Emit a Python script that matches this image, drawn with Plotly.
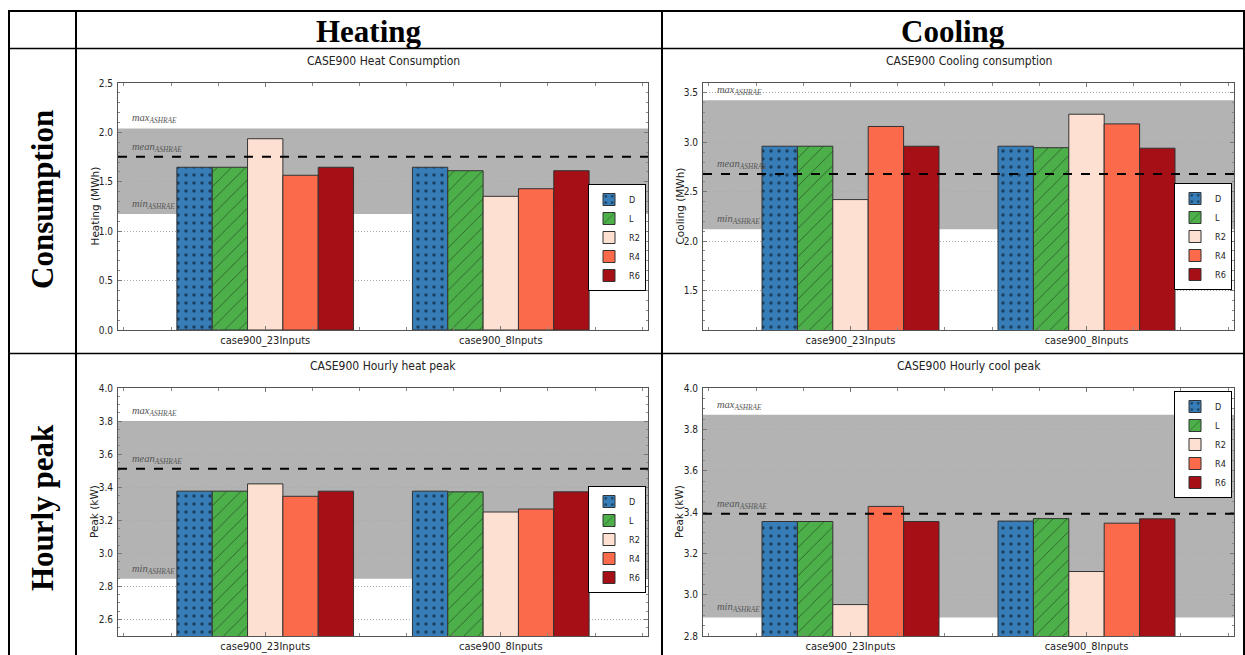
import plotly.graph_objects as go

W, H = 1245, 655

# ---------------- data ----------------
groups = ["case900_23Inputs", "case900_8Inputs"]
group_pos = [0, 1]
series = ["D", "L", "R2", "R4", "R6"]
colors = ["#377eb8", "#4daf4a", "#fee0d2", "#fb6a4a", "#a50f15"]
patterns = [".", "/", "", "", ""]

# values per series: [case900_23Inputs, case900_8Inputs]
heat_cons_D = [1.647, 1.647]
heat_cons_L = [1.647, 1.612]
heat_cons_R2 = [1.936, 1.353]
heat_cons_R4 = [1.566, 1.430]
heat_cons_R6 = [1.647, 1.612]
heat_cons_ashrae = [1.174, 1.754, 2.040]   # min, mean, max

cool_cons_D = [2.960, 2.960]
cool_cons_L = [2.960, 2.945]
cool_cons_R2 = [2.420, 3.284]
cool_cons_R4 = [3.160, 3.186]
cool_cons_R6 = [2.960, 2.940]
cool_cons_ashrae = [2.120, 2.680, 3.425]

heat_peak_D = [3.376, 3.376]
heat_peak_L = [3.376, 3.372]
heat_peak_R2 = [3.420, 3.250]
heat_peak_R4 = [3.345, 3.268]
heat_peak_R6 = [3.376, 3.372]
heat_peak_ashrae = [2.846, 3.511, 3.800]

cool_peak_D = [3.354, 3.356]
cool_peak_L = [3.354, 3.368]
cool_peak_R2 = [2.952, 3.112]
cool_peak_R4 = [3.427, 3.346]
cool_peak_R6 = [3.354, 3.367]
cool_peak_ashrae = [2.890, 3.391, 3.871]

titles = ["CASE900 Heat Consumption", "CASE900 Cooling consumption",
          "CASE900 Hourly heat peak", "CASE900 Hourly cool peak"]
ytitles = ["Heating (MWh)", "Cooling (MWh)", "Peak (kW)", "Peak (kW)"]
yranges = [[0, 2.5], [1.1, 3.6], [2.5, 4.0], [2.8, 4.0]]
ydticks = [0.5, 0.5, 0.2, 0.2]
ytick0 = [0, 1.5, 2.6, 2.8]
yminor = [0.1, 0.1, 0.05, 0.05]
col_headers = ["Heating", "Cooling"]
row_headers = ["Consumption", "Hourly peak"]

panel_values = [
    [heat_cons_D, heat_cons_L, heat_cons_R2, heat_cons_R4, heat_cons_R6],
    [cool_cons_D, cool_cons_L, cool_cons_R2, cool_cons_R4, cool_cons_R6],
    [heat_peak_D, heat_peak_L, heat_peak_R2, heat_peak_R4, heat_peak_R6],
    [cool_peak_D, cool_peak_L, cool_peak_R2, cool_peak_R4, cool_peak_R6],
]
panel_ashrae = [heat_cons_ashrae, cool_cons_ashrae, heat_peak_ashrae, cool_peak_ashrae]

# ---------------- layout geometry (pixels) ----------------
def px(x):
    return x / W

def py(y):
    return 1 - y / H

# plot areas: (left, right, top, bottom) in pixels
areas = [(118, 648, 83, 330), (703, 1234, 83, 330),
         (118, 648, 388, 636), (703, 1234, 388, 636)]
legend_pos = [(646, 184), (1232, 183), (646, 486), (1232, 391)]
title_y = [61, 61, 366, 366]
ytitle_x = [94, 679, 94, 679]

TICKFONT = "Liberation Sans Narrow, DejaVu Sans Condensed, Roboto Condensed, Arial Narrow, sans-serif"

fig = go.Figure()
layout = dict(
    width=W, height=H, margin=dict(l=0, r=0, t=0, b=0, autoexpand=False),
    paper_bgcolor="white", plot_bgcolor="white",
    barmode="group", bargap=0.25, bargroupgap=0,
    showlegend=True,
)
shapes = []
annotations = []

for p in range(4):
    ax = "" if p == 0 else str(p + 1)
    xa, ya = "x" + ax, "y" + ax
    leg = "legend" + ax
    for i, s in enumerate(series):
        fig.add_trace(go.Bar(
            x=group_pos, y=panel_values[p][i], name=s,
            xaxis=xa, yaxis=ya, legend=leg,
            marker=dict(color=colors[i],
                        line=dict(color="#333333", width=1),
                        pattern=dict(shape=patterns[i], fgcolor="black",
                                     size=8 if patterns[i] == "." else 10,
                                     solidity=0.14 if patterns[i] == "." else 0.08)),
        ))
    l, r, t, b = areas[p]
    layout["xaxis" + ax] = dict(
        domain=[px(l), px(r)], anchor=ya, range=[-0.625, 1.625],
        tickmode="array", tickvals=group_pos, ticktext=groups,
        tickfont=dict(family=TICKFONT, size=11, color="#222"),
        showgrid=False, zeroline=False, automargin=False,
        showline=True, linecolor="#555", linewidth=1, mirror="ticks",
        ticks="inside", ticklen=4, tickcolor="#777",
        minor=dict(tickmode="linear", tick0=0, dtick=0.2, ticks="inside",
                   ticklen=3, tickcolor="#888"),
        fixedrange=True,
    )
    layout["yaxis" + ax] = dict(
        domain=[py(b), py(t)], anchor=xa, range=yranges[p],
        tickmode="linear", tick0=ytick0[p], dtick=ydticks[p], tickformat=".1f",
        tickfont=dict(family=TICKFONT, size=10, color="#222"),
        showgrid=True, gridcolor="#aaaaaa", griddash="1px,2px", gridwidth=0.8,
        zeroline=False, automargin=False,
        showline=True, linecolor="#555", linewidth=1, mirror="ticks",
        ticks="inside", ticklen=4, tickcolor="#777", ticklabelstandoff=2,
        minor=dict(tickmode="linear", tick0=ytick0[p], dtick=yminor[p],
                   ticks="inside", ticklen=2, tickcolor="#888", showgrid=False),
        fixedrange=True,
    )
    lx, ly = legend_pos[p]
    layout[leg] = dict(
        x=px(lx), y=py(ly), xanchor="right", yanchor="top",
        xref="paper", yref="paper",
        bgcolor="white", bordercolor="black", borderwidth=1,
        font=dict(family=TICKFONT, size=9, color="#222"),
        itemwidth=30, tracegroupgap=0,
    )
    mn, mean, mx = panel_ashrae[p]
    shapes.append(dict(type="rect", xref=xa + " domain", yref=ya,
                       x0=0, x1=1, y0=mn, y1=mx, fillcolor="#b3b3b3",
                       line=dict(width=0), layer="below"))
    shapes.append(dict(type="line", xref=xa + " domain", yref=ya,
                       x0=0, x1=1, y0=mean, y1=mean,
                       line=dict(color="black", width=2, dash="dash"), layer="above"))
    for val, lab in [(mx, "max"), (mean, "mean"), (mn, "min")]:
        annotations.append(dict(
            xref=xa + " domain", yref=ya, x=0.022, y=val,
            xanchor="left", yanchor="bottom", yshift=1, showarrow=False,
            text="<i>%s</i><sub><i>ASHRAE</i></sub>" % lab,
            font=dict(family="Liberation Serif, DejaVu Serif, serif", size=10.5, color="#555"),
        ))
    annotations.append(dict(
        xref="paper", yref="paper", x=px((l + r) / 2), y=py(title_y[p]),
        xanchor="center", yanchor="middle", showarrow=False, text=titles[p],
        font=dict(family=TICKFONT, size=12, color="#222"),
    ))
    annotations.append(dict(
        xref="paper", yref="paper", x=px(ytitle_x[p]), y=py((t + b) / 2),
        xanchor="center", yanchor="middle", showarrow=False, text=ytitles[p],
        textangle=-90,
        font=dict(family="DejaVu Sans, sans-serif", size=10.5, color="#222"),
    ))

# ---------------- table frame ----------------
def hline(y, x0, x1, w):
    shapes.append(dict(type="line", xref="paper", yref="paper",
                       x0=px(x0), x1=px(x1), y0=py(y), y1=py(y),
                       line=dict(color="black", width=w), layer="above"))

def vline(x, y0, y1, w):
    shapes.append(dict(type="line", xref="paper", yref="paper",
                       x0=px(x), x1=px(x), y0=py(y0), y1=py(y1),
                       line=dict(color="black", width=w), layer="above"))

hline(11, 8, 1245, 2)
hline(48.5, 8, 1245, 1.3)
hline(353.5, 8, 1245, 1.3)
vline(9, 10, 660, 2)
vline(76, 10, 660, 2)
vline(662, 10, 660, 2)
vline(1244, 10, 660, 2)

header_font = dict(family="Liberation Serif, Times New Roman, serif", size=31, color="black")
annotations.append(dict(xref="paper", yref="paper", x=px(369), y=py(31),
                        xanchor="center", yanchor="middle", showarrow=False,
                        text="<b>%s</b>" % col_headers[0], font=header_font))
annotations.append(dict(xref="paper", yref="paper", x=px(953), y=py(31),
                        xanchor="center", yanchor="middle", showarrow=False,
                        text="<b>%s</b>" % col_headers[1], font=header_font))
annotations.append(dict(xref="paper", yref="paper", x=px(42), y=py(200),
                        xanchor="center", yanchor="middle", showarrow=False, textangle=-90,
                        text="<b>%s</b>" % row_headers[0], font=header_font))
annotations.append(dict(xref="paper", yref="paper", x=px(42), y=py(508),
                        xanchor="center", yanchor="middle", showarrow=False, textangle=-90,
                        text="<b>%s</b>" % row_headers[1], font=header_font))

layout["shapes"] = shapes
layout["annotations"] = annotations
fig.update_layout(**layout)
fig.write_html("out.html", config={"displayModeBar": False},
               post_script="document.body.style.margin='0';")
